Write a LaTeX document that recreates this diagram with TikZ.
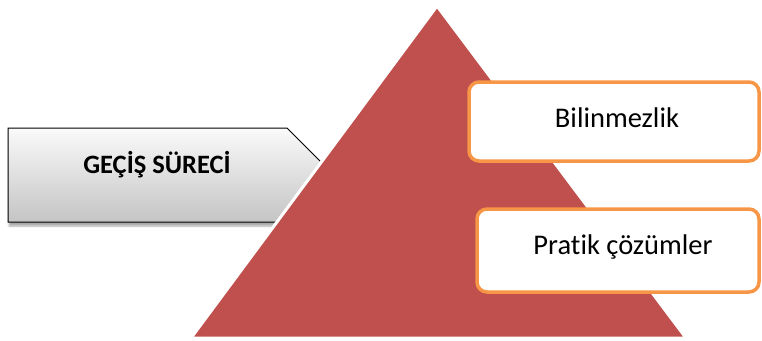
\documentclass[tikz,border=0pt]{standalone}
\usepackage{fontspec}
\setmainfont[Ligatures=CommonOff,RawFeature={-clig;-calt;-dlig}]{Carlito}
\usetikzlibrary{shadows,shadows.blur}
\definecolor{pyr}{HTML}{C0504D}
\definecolor{org}{HTML}{F79646}
\tikzset{
  lvlbox/.style={draw=org, line width=3.5pt, fill=white, rounded corners=10pt},
  lbl/.style={font=\fontsize{28.5}{32}\selectfont, text=black},
}
\begin{document}
\begin{tikzpicture}[x=1pt,y=-1pt]
\useasboundingbox (0,0) rectangle (762,340);
% left arrow pentagon
\path[draw=black, line width=1pt, top color=white!96!gray, bottom color=black!23,
      blur shadow={shadow xshift=1pt, shadow yshift=-4pt, shadow blur steps=6, shadow opacity=35}]
  (8,128) -- (287,128) -- (334,175) -- (287,222) -- (8,222) -- cycle;
\node[lbl, font=\bfseries\fontsize{26.5}{30}\selectfont] (proc) at (157,165) {GEÇİŞ SÜRECİ};
% pyramid
\path[fill=pyr, draw=white, line width=3pt, line join=miter] (437,6) -- (686,338) -- (191,338) -- cycle;
\coordinate (apex) at (437,6);
% level boxes
\path[lvlbox] (469,82) rectangle (759,161);
\node[lbl] (b1) at (617,118) {Bilinmezlik};
\path[lvlbox] (477,209) rectangle (759,292);
\node[lbl] (b2) at (623,247) {Pratik çözümler};
\end{tikzpicture}
\end{document}
